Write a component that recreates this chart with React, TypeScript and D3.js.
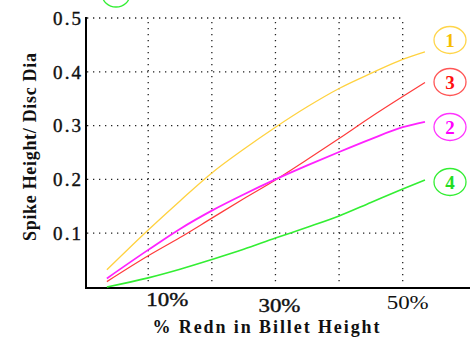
import React from "react";
import * as d3 from "d3";

const xPct = [3.5, 10, 15, 20, 25, 30, 35, 40, 45, 50, 53.5];
const series1 = [0.032, 0.106, 0.16, 0.212, 0.256, 0.297, 0.335, 0.369, 0.397, 0.423, 0.437];
const series3 = [0.01, 0.058, 0.092, 0.128, 0.164, 0.199, 0.237, 0.276, 0.316, 0.354, 0.38];
const series2 = [0.016, 0.069, 0.108, 0.142, 0.172, 0.2, 0.226, 0.251, 0.275, 0.297, 0.307];
const series4 = [0.0, 0.017, 0.033, 0.051, 0.07, 0.091, 0.111, 0.132, 0.157, 0.182, 0.199];

const yTicks = [0.1, 0.2, 0.3, 0.4, 0.5];
const yTickLabels = ["0.1", "0.2", "0.3", "0.4", "0.5"];
const xGrid = [10, 20, 30, 40, 50];
const xTicks = [10, 30, 50];
const xTickLabels = ["10%", "30%", "50%"];
const legendLabels = ["1", "3", "2", "4"];

const W = 470;
const H = 341;

export default function App() {
  const x = d3.scaleLinear().domain([0, 60.5]).range([84.6, 469.5]);
  const y = d3.scaleLinear().domain([0, 0.5]).range([287, 18]);
  const line = d3
    .line<[number, number]>()
    .x((d) => x(d[0]))
    .y((d) => y(d[1]))
    .curve(d3.curveMonotoneX);

  const series = [
    { vals: series1, color: "#FFD23F", width: 1.3 },
    { vals: series3, color: "#FF3B3B", width: 1.2 },
    { vals: series2, color: "#FF22FF", width: 1.8 },
    { vals: series4, color: "#33EE33", width: 1.6 },
  ];

  const legendStyles = [
    { stroke: "#FFD54A", fill: "#F7BE00", cy: 40 },
    { stroke: "#FF5555", fill: "#FF1010", cy: 82 },
    { stroke: "#FF33FF", fill: "#FF00FF", cy: 127 },
    { stroke: "#33EE33", fill: "#22DD22", cy: 182 },
  ];
  const xLabelDx = [19, 4, 5];
  const xLabelBase = [306, 312, 309];

  const font = "'Liberation Serif', 'Times New Roman', serif";
  const gridRight = x(50);

  return (
    <svg
      width={W}
      height={H}
      style={{ position: "absolute", left: 0, top: 0, background: "#fff" }}
      fontFamily={font}
    >
      {/* cut-off ellipse at top */}
      <ellipse cx={116} cy={-6} rx={14} ry={13} fill="none" stroke="#33EE33" strokeWidth={1.3} />

      {/* horizontal grid */}
      {yTicks.map((t) => (
        <line
          key={"h" + t}
          x1={87}
          x2={gridRight}
          y1={y(t)}
          y2={y(t)}
          stroke="#222"
          strokeWidth={1.3}
          strokeDasharray="1.3 4.7"
        />
      ))}
      {/* vertical grid */}
      {xGrid.map((t) => (
        <line
          key={"v" + t}
          x1={x(t)}
          x2={x(t)}
          y1={y(0.5) + 4}
          y2={283}
          stroke="#222"
          strokeWidth={1.3}
          strokeDasharray="1.3 4.7"
        />
      ))}

      {/* axes */}
      <line x1={86} x2={86} y1={17} y2={288} stroke="#000" strokeWidth={2} />
      <line x1={85} x2={W} y1={288} y2={288} stroke="#000" strokeWidth={2} />

      {/* y tick labels */}
      {yTicks.map((t, i) => (
        <text
          key={"yl" + t}
          x={81}
          y={y(t)}
          dy="0.36em"
          textAnchor="end"
          fontSize={19}
          textLength={28}
          lengthAdjust="spacing"
          fill="#111"
          stroke="#111"
          strokeWidth={0.4}
        >
          {yTickLabels[i]}
        </text>
      ))}

      {/* x tick labels */}
      {xTicks.map((t, i) => (
        <text
          key={"xl" + t}
          x={x(t) + xLabelDx[i]}
          y={xLabelBase[i]}
          textAnchor="middle"
          fontSize={19}
          textLength={42}
          lengthAdjust="spacingAndGlyphs"
          fill="#111"
          stroke="#111"
          strokeWidth={i === 2 ? 0 : 0.4}
        >
          {xTickLabels[i]}
        </text>
      ))}

      {/* axis titles */}
      <text
        x={266}
        y={333}
        textAnchor="middle"
        fontSize={18}
        fontWeight="bold"
        textLength={227}
        lengthAdjust="spacing"
        fill="#111"
      >
        % Redn in Billet Height
      </text>
      <text
        transform="translate(36,147) rotate(-90)"
        textAnchor="middle"
        fontSize={18}
        fontWeight="bold"
        textLength={188}
        lengthAdjust="spacing"
        fill="#111"
      >
        Spike Height/ Disc Dia
      </text>

      {/* series lines */}
      {series.map((s, i) => (
        <path
          key={"s" + i}
          d={line(xPct.map((p, j) => [p, s.vals[j]] as [number, number])) || ""}
          fill="none"
          stroke={s.color}
          strokeWidth={s.width}
        />
      ))}

      {/* legend ellipses */}
      {legendLabels.map((lab, i) => (
        <g key={"lg" + i}>
          <ellipse
            cx={450}
            cy={legendStyles[i].cy}
            rx={16}
            ry={13.5}
            fill="none"
            stroke={legendStyles[i].stroke}
            strokeWidth={1.3}
          />
          <text
            x={450}
            y={legendStyles[i].cy}
            dy="0.35em"
            textAnchor="middle"
            fontSize={19}
            fontWeight="bold"
            fill={legendStyles[i].fill}
          >
            {lab}
          </text>
        </g>
      ))}
    </svg>
  );
}
